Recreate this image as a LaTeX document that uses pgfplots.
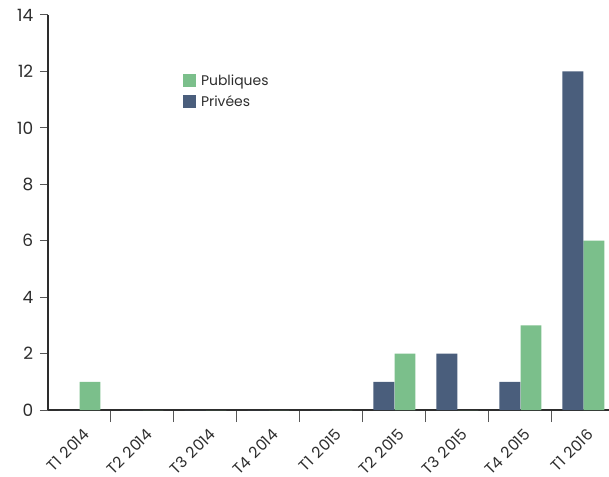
\documentclass[border=0pt]{standalone}
\usepackage{pgfplots}
\pgfplotsset{compat=1.18}
\usepackage{fontspec}
\setmainfont{Poppins}[WordSpace=1.35]
\definecolor{pub}{RGB}{123,191,139}
\definecolor{priv}{RGB}{74,94,124}
\definecolor{axc}{RGB}{45,45,45}
\begin{document}
\begin{tikzpicture}
\begin{axis}[
  scale only axis, width=561bp, height=395bp,
  xmin=-0.5, xmax=8.405, ymin=0, ymax=14,
  axis x line=bottom, axis y line=left,
  axis line style={axc, line width=2bp, -},
  /pgf/number format/assume math mode=true,
  ybar, bar width=0.333,
  tick align=outside,
  ytick={0,2,...,14},
  y tick style={axc!80, line width=1bp, /pgfplots/major tick length=8bp},
  y tick label style={font=\fontsize{17}{17}\selectfont, text=axc, xshift=-7bp},
  xtick={0,...,8},
  xticklabels={T1 2014,T2 2014,T3 2014,T4 2014,T1 2015,T2 2015,T3 2015,T4 2015,T1 2016},
  minor xtick={0.5,1.5,...,7.5},
  x tick style={axc!80, line width=1bp, /pgfplots/major tick length=0bp, /pgfplots/minor tick length=12bp},
  x tick label style={font=\fontsize{15.5}{15.5}\selectfont, text=axc, rotate=45, anchor=north east, xshift=-4bp, yshift=-8bp},
  legend style={at={(rel axis cs:0.235,0.86)}, anchor=north west, draw=none, fill=none, font=\fontsize{14}{14}\selectfont, row sep=5bp, column sep=3bp, text=axc},
  legend cell align=left,
  legend image code/.code={\fill[#1] (0bp,-6.5bp) rectangle (13bp,6.5bp);},
]
\addplot[fill=pub, draw=none, bar shift=0.1667] coordinates {(0,1) (1,0) (2,0) (3,0) (4,0) (5,2) (6,0) (7,3) (8,6)};
\addlegendentry{Publiques}
\addplot[fill=priv, draw=none, bar shift=-0.1667] coordinates {(0,0) (1,0) (2,0) (3,0) (4,0) (5,1) (6,2) (7,1) (8,12)};
\addlegendentry{Privées}
\end{axis}
\pgfresetboundingbox
\path (-48bp,-67bp) rectangle (561bp,410bp);
\end{tikzpicture}
\end{document}
